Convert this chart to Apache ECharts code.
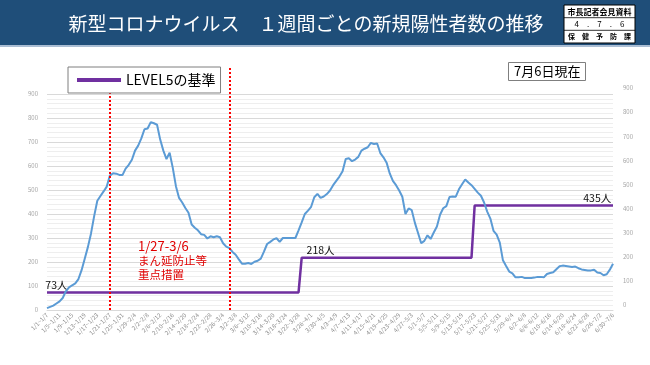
<!DOCTYPE html>
<html>
<head>
<meta charset="utf-8">
<script src="https://cdn.jsdelivr.net/npm/echarts@6/dist/echarts.min.js"></script>
<style>
html,body{margin:0;padding:0;background:#fff;}
#chart{width:650px;height:365px;}
</style>
</head>
<body>
<div id="chart"></div>
<script>
// ---- data ----
const tickLabels = [
  "1/1~1/7","1/5~1/11","1/9~1/15","1/13~1/19","1/17~1/23","1/21~1/27","1/25~1/31","1/29~2/4",
  "2/2~2/8","2/6~2/12","2/10~2/16","2/14~2/20","2/18~2/24","2/22~2/28","2/26~3/4","3/2~3/8",
  "3/6~3/12","3/10~3/16","3/14~3/20","3/18~3/24","3/22~3/28","3/26~4/1","3/30~4/5","4/3~4/9",
  "4/7~4/13","4/11~4/17","4/15~4/21","4/19~4/25","4/23~4/29","4/27~5/3","5/1~5/7","5/5~5/11",
  "5/9~5/15","5/13~5/19","5/17~5/23","5/21~5/27","5/25~5/31","5/29~6/4","6/2~6/8","6/6~6/12",
  "6/10~6/16","6/14~6/20","6/18~6/24","6/22~6/28","6/26~7/2","6/30~7/6"
];
const weeklyCases = [
  8,13,18,27,36,50,78,94,103,111,
  129,166,214,262,319,391,455,475,494,514,
  560,570,568,563,562,589,605,626,664,685,
  715,753,756,783,778,772,710,664,629,655,
  592,516,467,448,425,405,356,343,332,316,
  313,298,307,303,307,303,278,264,258,242,
  230,211,193,193,196,192,201,205,214,243,
  275,284,294,299,284,300,300,300,300,300,
  332,365,400,414,430,470,484,467,473,483,
  498,520,538,556,578,629,632,620,627,638,
  664,672,678,696,692,694,654,636,614,569,
  538,520,498,472,400,423,416,363,321,278,
  288,311,296,323,348,397,424,433,471,473,
  472,503,524,544,531,520,505,489,476,448,
  410,381,330,314,281,207,183,160,153,136,
  136,138,133,133,133,135,138,138,136,150,
  154,157,170,182,185,183,181,179,181,174,
  169,167,165,165,168,156,154,145,149,168,
  193
];
const levelValues = [73, 218, 435];
const levelStartIndex = [0, 81, 136];
const levelLabelIndex = [3, 87, 175];
const measureStartIndex = 20;   // 1/21~1/27
const measureEndIndex = 58;     // 2/28~3/6

// categories: 7-day windows starting 2022-01-01
const categories = weeklyCases.map((_, i) => {
  const s = new Date(2022, 0, 1 + i), e = new Date(2022, 0, 7 + i);
  return (s.getMonth()+1) + "/" + s.getDate() + "~" + (e.getMonth()+1) + "/" + e.getDate();
});

const FONT = '"Noto Sans CJK JP", "Noto Sans", sans-serif';

const levelData = weeklyCases.map((_, i) => {
  let k = 0;
  for (let j = 0; j < levelStartIndex.length; j++) if (i >= levelStartIndex[j]) k = j;
  const v = levelValues[k];
  const li = levelLabelIndex.indexOf(i);
  if (li >= 0) {
    return {
      value: v, symbol: 'circle', symbolSize: 1,
      itemStyle: { color: 'rgba(0,0,0,0)' },
      label: { show: true, position: 'top', distance: 2, formatter: levelValues[li] + '人',
               fontSize: 10.5, color: '#111', fontFamily: FONT }
    };
  }
  return v;
});

const chart = echarts.init(document.getElementById('chart'), null, { renderer: 'canvas' });
chart.setOption({
  animation: false,
  backgroundColor: '#ffffff',
  textStyle: { fontFamily: FONT },
  graphic: [
    { type: 'rect', left: 0, top: 0, shape: { width: 650, height: 45 }, style: { fill: '#1f4e79' }, z: 0 },
    { type: 'rect', left: 0, top: 45, shape: { width: 650, height: 2 }, style: { fill: '#aabdd3' }, z: 0 },
    { type: 'text', x: 306, y: 24, style: { text: '新型コロナウイルス　１週間ごとの新規陽性者数の推移',
        fill: '#ffffff', font: '19px ' + FONT, textAlign: 'center', textVerticalAlign: 'middle' }, z: 1 },
    { type: 'group', x: 564, y: 5, z: 1, children: [
      { type: 'rect', shape: { x: 0, y: 0, width: 71, height: 38 }, style: { fill: '#fff', stroke: '#000', lineWidth: 1 } },
      { type: 'line', shape: { x1: 0, y1: 12.7, x2: 71, y2: 12.7 }, style: { stroke: '#000', lineWidth: 0.8 } },
      { type: 'line', shape: { x1: 0, y1: 25.3, x2: 71, y2: 25.3 }, style: { stroke: '#000', lineWidth: 0.8 } },
      { type: 'text', x: 35.5, y: 6.5, style: { text: '市長記者会見資料', fill: '#000', font: 'bold 8px ' + FONT, textAlign: 'center', textVerticalAlign: 'middle' } },
      { type: 'text', x: 35.5, y: 19.2, style: { text: '4　.　7　.　6', fill: '#000', font: '8px ' + FONT, textAlign: 'center', textVerticalAlign: 'middle' } },
      { type: 'text', x: 35.5, y: 31.8, style: { text: '保　健　予　防　課', fill: '#000', font: 'bold 7px ' + FONT, textAlign: 'center', textVerticalAlign: 'middle' } }
    ]},
    { type: 'text', left: 138, top: 240, z: 5, style: {
        text: '{a|1/27-3/6}\n{b|まん延防止等}\n{b|重点措置}',
        fill: '#e00000',
        rich: {
          a: { fontSize: 13, lineHeight: 14, fontFamily: FONT, fill: '#e00000' },
          b: { fontSize: 11.5, lineHeight: 14, fontFamily: FONT, fill: '#e00000' }
        } } }
  ],
  title: [{
    text: '7月6日現在', left: 508, top: 62,
    borderColor: '#7f7f7f', borderWidth: 1, padding: [3, 5, 3, 6], backgroundColor: '#fff',
    textStyle: { fontSize: 13, fontWeight: 'normal', color: '#000', fontFamily: FONT }
  }],
  legend: {
    data: ['LEVEL5の基準'], left: 68, top: 67,
    padding: [6, 5, 6, 9], borderColor: '#7f7f7f', borderWidth: 1, backgroundColor: '#fff',
    icon: 'rect', itemWidth: 44, itemHeight: 4,
    textStyle: { fontSize: 14, color: '#000', fontFamily: FONT },
    z: 10
  },
  grid: [
    { left: 47, right: 37, top: 94, bottom: 55 },
    { left: 47, right: 37, top: 88, bottom: 60 }
  ],
  xAxis: [{
    type: 'category', data: categories, boundaryGap: false, gridIndex: 0,
    axisLine: { lineStyle: { color: '#d9d9d9' } },
    axisTick: { show: false },
    axisLabel: { interval: 3, rotate: 45, fontSize: 6, color: '#8c8c8c', margin: 4,
      formatter: (v, idx) => (idx % 4 === 0 ? tickLabels[idx / 4] : v) },
    splitLine: { show: false }
  }, {
    type: 'value', gridIndex: 1, show: false, min: 0, max: 1
  }],
  yAxis: [{
    type: 'value', gridIndex: 0, min: 0, max: 900, interval: 100,
    axisLine: { show: false }, axisTick: { show: false },
    axisLabel: { fontSize: 6, color: '#a6a6a6', margin: 9 },
    splitLine: { lineStyle: { color: '#d9d9d9', width: 1 } },
    minorTick: { show: false, splitNumber: 5 },
    minorSplitLine: { show: true, lineStyle: { color: '#eeeeee', width: 1 } }
  }, {
    type: 'value', gridIndex: 1, position: 'right', min: 0, max: 900, interval: 100,
    axisLine: { show: false }, axisTick: { show: false },
    axisLabel: { fontSize: 6, color: '#a6a6a6', margin: 10 },
    splitLine: { show: false }
  }],
  series: [{
    name: 'LEVEL5の基準', type: 'line', data: levelData,
    xAxisIndex: 0, yAxisIndex: 0,
    symbol: 'none', showSymbol: true, showAllSymbol: true,
    lineStyle: { color: '#7030a0', width: 2.5 },
    itemStyle: { color: '#7030a0' },
    silent: true, z: 2
  }, {
    name: '新規陽性者数', type: 'line', data: weeklyCases,
    xAxisIndex: 0, yAxisIndex: 0,
    symbol: 'none', showSymbol: false, clip: false,
    lineStyle: { color: '#5b9bd5', width: 2 },
    itemStyle: { color: '#5b9bd5' },
    silent: true, z: 3,
    markLine: {
      silent: true, symbol: 'none', label: { show: false },
      lineStyle: { color: '#ff0000', type: [2, 2], width: 2 },
      data: [
        [{ xAxis: measureStartIndex, y: 68 }, { xAxis: measureStartIndex, yAxis: 0 }],
        [{ xAxis: measureEndIndex, y: 68 }, { xAxis: measureEndIndex, yAxis: 0 }]
      ]
    }
  }]
});
</script>
</body>
</html>
